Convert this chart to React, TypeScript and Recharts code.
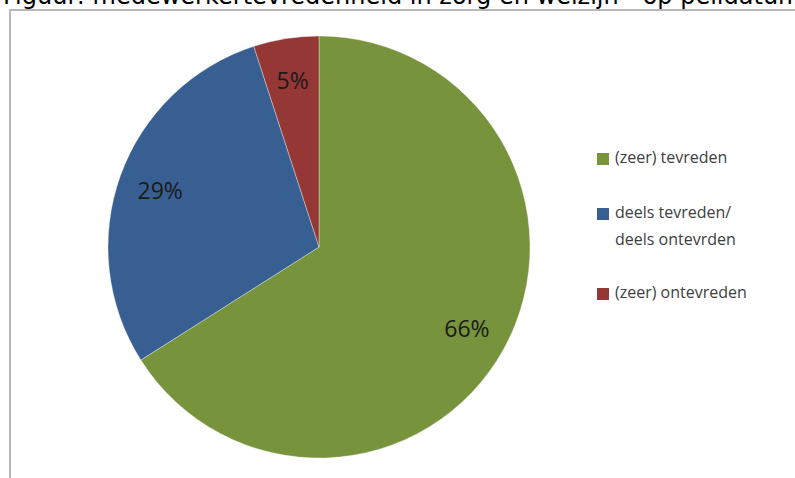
import { Cell, Legend, Pie, PieChart } from "recharts";

const categories = ["(zeer) tevreden", "deels tevreden/\ndeels ontevrden", "(zeer) ontevreden"];
const shares = [66, 29, 5];
const colors = ["#77933C", "#375F92", "#953735"];

const data = categories.map((name, i) => ({ name, value: shares[i] }));

const RAD = Math.PI / 180;

function renderLabel(props: any) {
  const { cx, cy, midAngle, outerRadius, value } = props;
  const r = outerRadius * 0.8;
  const x = cx + r * Math.cos(-midAngle * RAD);
  const y = cy + r * Math.sin(-midAngle * RAD);
  return (
    <text
      x={x}
      y={y}
      fill="#1a1a1a"
      textAnchor="middle"
      dominantBaseline="central"
      fontSize={23}
      fontFamily="'Open Sans', sans-serif"
    >
      {`${value}%`}
    </text>
  );
}

// legend items sit at fixed gaps like the office chart
const legendTops = [148, 203, 283];

function LegendBox() {
  return (
    <div style={{ position: "absolute", left: 597, top: 0 }}>
      {data.map((d, i) => (
        <div
          key={d.name}
          style={{
            position: "absolute",
            top: legendTops[i],
            left: 0,
            display: "flex",
            alignItems: "flex-start",
            whiteSpace: "pre",
            width: 200,
          }}
        >
          <span
            style={{
              display: "inline-block",
              width: 12,
              height: 12,
              background: colors[i],
              marginTop: 5,
              marginRight: 6,
            }}
          />
          <span
            style={{
              fontFamily: "'Open Sans', sans-serif",
              fontSize: 16,
              lineHeight: "27px",
              marginTop: -4,
              color: "#404040",
            }}
          >
            {d.name}
          </span>
        </div>
      ))}
    </div>
  );
}

export default function App() {
  return (
    <div
      style={{
        position: "fixed",
        left: 0,
        top: 0,
        width: 795,
        height: 478,
        overflow: "hidden",
        background: "#fff",
      }}
    >
      <div
        style={{
          position: "absolute",
          left: 3,
          top: -18,
          fontFamily: "'DejaVu Sans', sans-serif",
          fontSize: 24,
          lineHeight: "28px",
          whiteSpace: "nowrap",
          color: "#000",
        }}
      >
        Figuur: medewerkertevredenheid in zorg en welzijn - op peildatum
      </div>
      <div
        style={{
          position: "absolute",
          left: 9,
          top: 9,
          width: 820,
          height: 500,
          border: "2px solid #b8b8b8",
          boxSizing: "border-box",
        }}
      />
      <PieChart
        width={795}
        height={478}
        margin={{ top: 0, right: 0, bottom: 0, left: 0 }}
        style={{ position: "absolute", left: 0, top: 0 }}
      >
        <Pie
          data={data}
          dataKey="value"
          nameKey="name"
          cx={319}
          cy={247}
          outerRadius={211}
          startAngle={90}
          endAngle={-270}
          stroke="rgba(255,255,255,0.35)"
          strokeWidth={1}
          label={renderLabel}
          labelLine={false}
          isAnimationActive={false}
        >
          {data.map((d, i) => (
            <Cell key={d.name} fill={colors[i]} />
          ))}
        </Pie>
        <Legend content={() => null} />
      </PieChart>
      <LegendBox />
    </div>
  );
}
